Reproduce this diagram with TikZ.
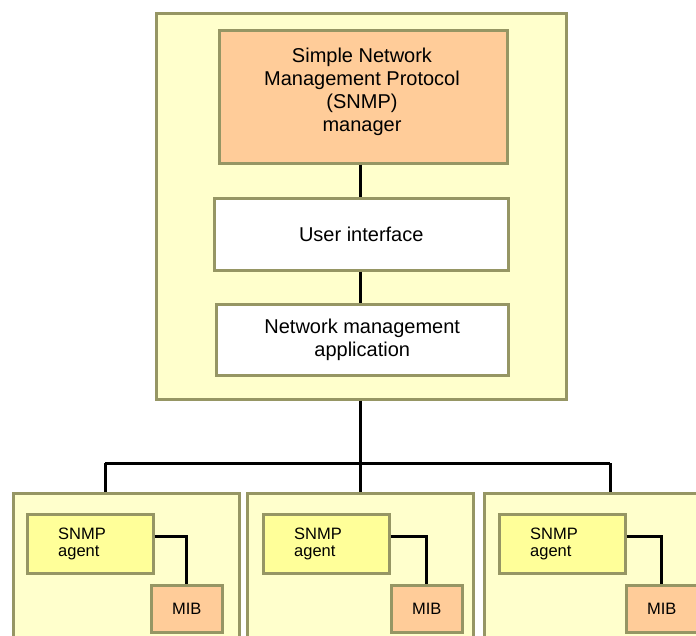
\documentclass[tikz,border=0pt]{standalone}
\usepackage{fontspec}
\setmainfont{Liberation Sans}
\usetikzlibrary{calc}
\definecolor{edge}{RGB}{150,150,100}
\definecolor{paleyellow}{RGB}{255,255,204}
\definecolor{agentyellow}{RGB}{255,255,153}
\definecolor{peach}{RGB}{255,204,153}
\tikzset{
  box/.style={draw=edge, line width=2.5pt, inner sep=0pt, anchor=north west},
  outerbox/.style={box, fill=paleyellow},
  peachbox/.style={box, fill=peach},
  whitebox/.style={box, fill=white, font=\fontsize{20}{23}\selectfont, align=center},
  agentbox/.style={box, fill=agentyellow},
  mibbox/.style={box, fill=peach, font=\fontsize{16.5}{18}\selectfont},
  bigtext/.style={inner sep=0pt, align=center, font=\fontsize{20}{23}\selectfont},
  smalltext/.style={inner sep=0pt, align=left, anchor=west, font=\fontsize{16.5}{17.5}\selectfont},
  wire/.style={line width=3pt, black}
}
\begin{document}
\begin{tikzpicture}[x=1pt, y=1pt]
\clip (0,0) rectangle (696,-635);
\fill[white] (0,0) rectangle (696,-635);

% manager station
\node[outerbox, minimum width=410, minimum height=386] (station) at (155,-12) {};
\node[peachbox, minimum width=288, minimum height=133] (mgr) at (218,-29) {};
\node[bigtext] (mgrtext) at (362,-91.5) {Simple Network\\Management Protocol\\(SNMP)\\manager};
\node[whitebox, minimum width=294, minimum height=72] (ui) at (213,-197) {User interface};
\node[whitebox, minimum width=292, minimum height=71] (nma) at (215,-303) {Network management\\application};

\draw[wire] (mgr.south -| 360,0) -- (ui.north -| 360,0);
\draw[wire] (ui.south -| 360,0) -- (nma.north -| 360,0);

% managed devices
\node[outerbox, minimum width=226, minimum height=170] (dev1) at (12,-492) {};
\node[outerbox, minimum width=226, minimum height=170] (dev2) at (246,-492) {};
\node[outerbox, minimum width=226, minimum height=170] (dev3) at (483,-492) {};

\foreach \i/\ax/\mx in {1/26/150, 2/262/390, 3/498/625}{
  \node[agentbox, minimum width=126, minimum height=59] (ag\i) at (\ax,-513) {};
  \node[smalltext] (agtext\i) at ($(ag\i.west)+(32,0)$) {SNMP\\agent};
  \node[mibbox, minimum width=71, minimum height=47] (mib\i) at (\mx,-584) {MIB};
  \draw[wire] ($(ag\i.east)+(0,7.5)$) -| (mib\i.north);
}

% distribution bus
\coordinate (busL) at (105,-463);
\coordinate (busM) at (360,-463);
\coordinate (busR) at (610,-463);
\draw[wire] (station.south -| busM) -- (busM);
\draw[wire] (busL) -- (busR);
\draw[wire] (busL) -- (busL |- dev1.north);
\draw[wire] (busM) -- (busM |- dev2.north);
\draw[wire] (busR) -- (busR |- dev3.north);
\end{tikzpicture}
\end{document}
